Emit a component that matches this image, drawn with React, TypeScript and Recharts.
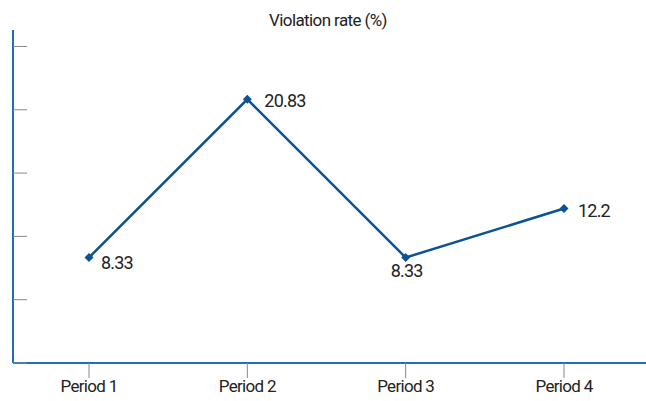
import { LineChart, Line, XAxis, YAxis, LabelList } from 'recharts';

const periods = ['Period 1', 'Period 2', 'Period 3', 'Period 4'];
const violationRate = [8.33, 20.83, 8.33, 12.2];
const yTicks = [0, 5, 10, 15, 20, 25];

const data = periods.map((p, i) => ({ period: p, rate: violationRate[i] }));

const FONT = '"Liberation Sans Narrow", "Roboto", sans-serif';

const Diamond = ({ cx, cy }: any) => {
  if (cx == null || cy == null) return null;
  const r = 4.5;
  return <path d={`M${cx},${cy - r}L${cx + r},${cy}L${cx},${cy + r}L${cx - r},${cy}Z`} fill="#0b5394" />;
};

const PointLabel = ({ x, y, value, index }: any) => {
  // label placement per point, as in the reference
  const offsets = [
    { dx: 12, dy: 11, anchor: 'start' },
    { dx: 17, dy: 8, anchor: 'start' },
    { dx: 1, dy: 19, anchor: 'middle' },
    { dx: 14, dy: 8, anchor: 'start' },
  ];
  const o = offsets[index] ?? offsets[0];
  return (
    <text x={x + o.dx} y={y + o.dy} textAnchor={o.anchor} fill="#222" fontSize={18} letterSpacing={-0.8} fontFamily={FONT}>
      {value}
    </text>
  );
};

export default function App() {
  return (
    <div style={{ position: 'fixed', top: 0, left: 0, width: 646, height: 401, background: '#fff', overflow: 'hidden' }}>
      <div style={{ position: 'absolute', top: 10, left: 0, width: 656, textAlign: 'center', fontFamily: FONT, fontSize: 17, letterSpacing: -0.6, color: '#222' }}>
        Violation rate (%)
      </div>
      <LineChart width={660} height={401} data={data} margin={{ top: 30, right: 14, bottom: 0, left: 13 }}>
        <XAxis
          dataKey="period"
          padding={{ left: 76, right: 82 }}
          axisLine={{ stroke: '#1f6fbf', strokeWidth: 2 }}
          tickLine={{ stroke: '#888' }}
          tickSize={15}
          height={38}
          tick={{ fill: '#222', fontSize: 17, fontFamily: FONT, letterSpacing: -0.7 }}
        />
        <YAxis
          domain={[0, 26.3]}
          ticks={yTicks}
          mirror
          width={1}
          tick={() => <g />}
          tickSize={14}
          axisLine={{ stroke: '#1f6fbf', strokeWidth: 2 }}
          tickLine={{ stroke: '#888' }}
        />
        <Line
          dataKey="rate"
          stroke="#0b5394"
          strokeWidth={2.5}
          dot={<Diamond />}
          activeDot={false}
          isAnimationActive={false}
        >
          <LabelList dataKey="rate" content={<PointLabel />} />
        </Line>
      </LineChart>
    </div>
  );
}
